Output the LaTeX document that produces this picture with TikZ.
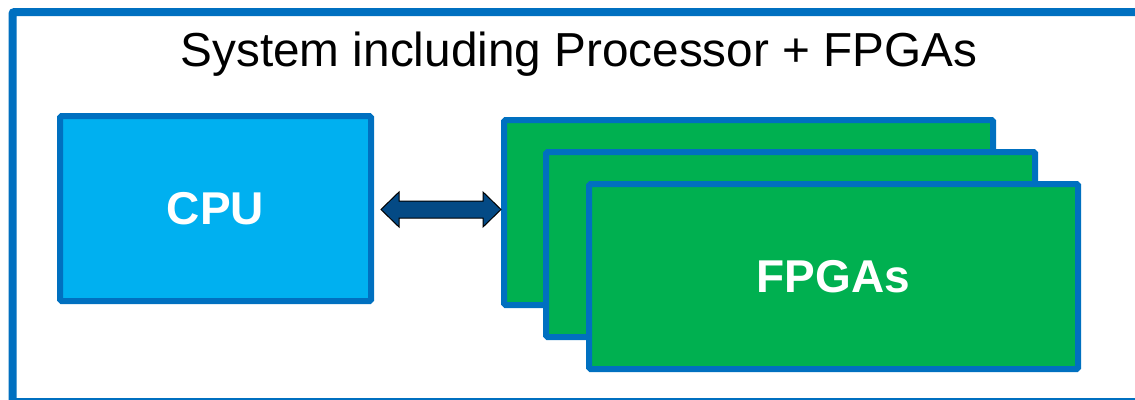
\documentclass[tikz,border=0pt]{standalone}
\usepackage{fontspec}
\setmainfont{Liberation Sans}
\usetikzlibrary{calc}
\definecolor{frameblue}{HTML}{0070C0}
\definecolor{cpublue}{HTML}{00B0F0}
\definecolor{fpgagreen}{HTML}{00B050}
\definecolor{arrowblue}{HTML}{044A85}
\begin{document}
\begin{tikzpicture}[x=1pt,y=-1pt,
  unit/.style={draw=frameblue, line width=6pt, rounded corners=1.5pt,
    minimum width=#1, minimum height=185pt, inner sep=0pt,
    text=white, font=\fontsize{46}{50}\selectfont\bfseries},
  bigarrow/.style={fill=arrowblue, draw=black, line width=1pt, line join=miter}]
  \useasboundingbox (0,0) rectangle (1135,399);
  \begin{scope}
    \clip (0,0) rectangle (1135,399);
    \fill[white] (0,0) rectangle (1135,399);
    \draw[frameblue, line width=8pt, rounded corners=2pt] (12.5,12) rectangle (1150,402);
  \end{scope}
  \node[anchor=base, inner sep=0pt] (title) at (579,66.5)
    {\fontsize{47.7}{52}\selectfont System including Processor + FPGAs};
  \node[unit=311pt, fill=cpublue] (cpu) at (215.5,208.5) {CPU};
  \node[unit=489pt, fill=fpgagreen] (fpgaA) at (748.5,212.5) {};
  \node[unit=489pt, fill=fpgagreen] (fpgaB) at (790.5,244.5) {};
  \node[unit=489pt, fill=fpgagreen] (fpgaC) at (833.5,276.5) {FPGAs};
  % double-headed link between the processor and the FPGA stack
  \coordinate (al) at ($(cpu.east)+(7,1)$);
  \coordinate (ar) at ($(fpgaA.west|-al)$);
  \draw[bigarrow] (al) -- ++(18,-17.5) -- ++(0,9) -- ($(ar)+(-18,-8.5)$) -- ++(0,-9)
    -- (ar) -- ++(-18,17.5) -- ++(0,-9) -- ($(al)+(18,8.5)$) -- ++(0,9) -- cycle;
\end{tikzpicture}
\end{document}
